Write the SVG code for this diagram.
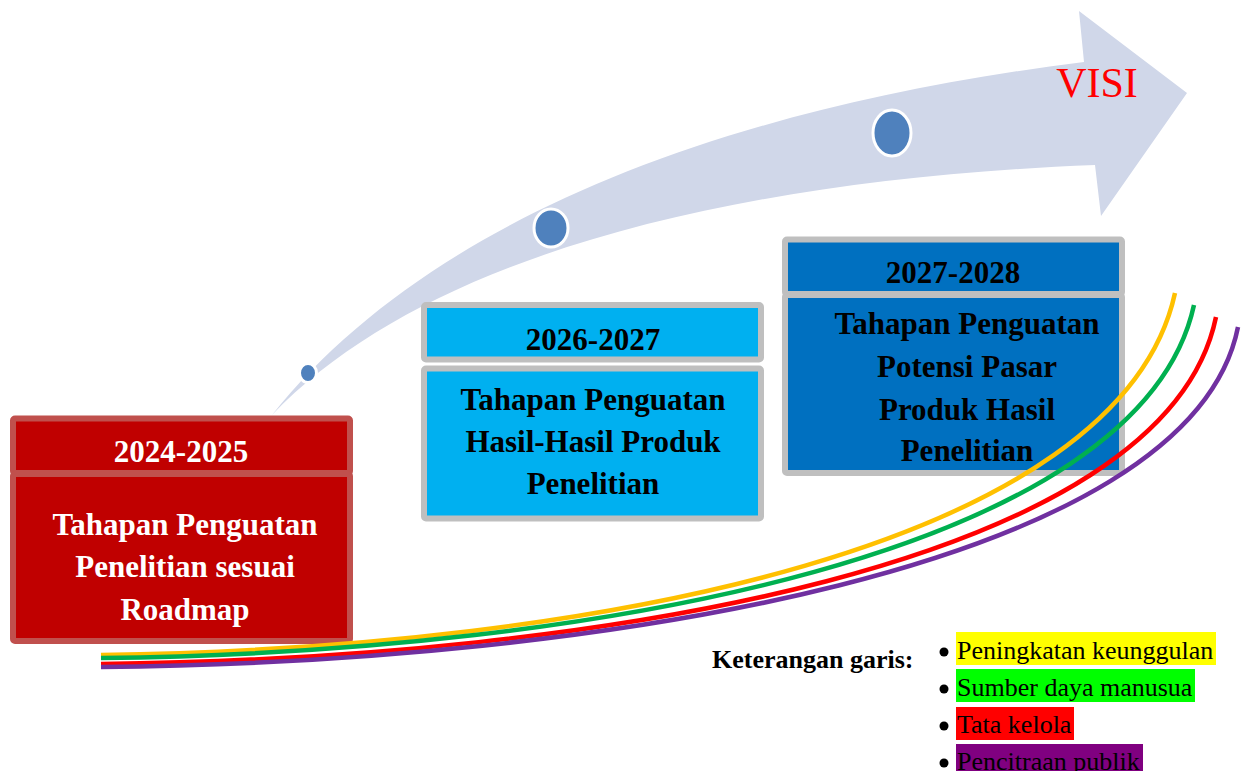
<svg xmlns="http://www.w3.org/2000/svg" width="1242" height="771" viewBox="0 0 1242 771">
<style>
.t{font-family:"Liberation Serif","Times New Roman",serif;font-weight:bold;font-size:31px;text-anchor:middle}
.w{fill:#FFFFFF}
.k{fill:#000000}
.gb{stroke:#BFBFBF;stroke-width:6}
.rb{stroke:#C0504D;stroke-width:6}
.dot{fill:#4F81BD;stroke:#FFFFFF;stroke-width:3}
.ln{fill:none;stroke-width:4.5;stroke-linecap:butt}
.lg{font-family:"Liberation Serif","Times New Roman",serif;font-size:26px;fill:#000000}
</style>
<rect width="1242" height="771" fill="#FFFFFF"/>
<g id="arrow">
<path d="M272 415 C420 230 700 110 1084 62 L1079 11 L1187 93 L1101 216 L1095 165 C720 180 420 260 272 415 Z" fill="#D0D7E9"/>
<ellipse class="dot" cx="308" cy="373" rx="8.5" ry="9.5"/>
<ellipse class="dot" cx="551" cy="228" rx="17" ry="19"/>
<ellipse class="dot" cx="892" cy="133" rx="19" ry="23"/>
<text x="1097" y="97" font-family="Liberation Serif,'Times New Roman',serif" font-size="42" fill="#FF0000" text-anchor="middle">VISI</text>
</g>
<g id="box1">
<rect class="rb" x="13" y="418.5" width="337" height="54.5" fill="#C00000" rx="2"/>
<rect class="rb" x="13" y="474" width="337" height="167" fill="#C00000" rx="2"/>
<text class="t w" x="181" y="462">2024-2025</text>
<text class="t w" x="185" y="535">Tahapan Penguatan</text>
<text class="t w" x="185" y="577">Penelitian sesuai</text>
<text class="t w" x="185" y="620">Roadmap</text>
</g>
<g id="box2">
<rect class="gb" x="424" y="305" width="337" height="54.5" fill="#00B0F0" rx="2"/>
<rect class="gb" x="424" y="368.5" width="337" height="150" fill="#00B0F0" rx="2"/>
<text class="t k" x="593" y="350">2026-2027</text>
<text class="t k" x="593" y="410">Tahapan Penguatan</text>
<text class="t k" x="593" y="452">Hasil-Hasil Produk</text>
<text class="t k" x="593" y="494">Penelitian</text>
</g>
<g id="box3">
<rect class="gb" x="785" y="239.5" width="337" height="54.5" fill="#0070C0" rx="2"/>
<rect class="gb" x="785" y="295" width="337" height="178" fill="#0070C0" rx="2"/>
<text class="t k" x="953" y="283">2027-2028</text>
<text class="t k" x="967" y="334">Tahapan Penguatan</text>
<text class="t k" x="967" y="377">Potensi Pasar</text>
<text class="t k" x="967" y="420">Produk Hasil</text>
<text class="t k" x="967" y="461">Penelitian</text>
</g>
<g id="connectors">
<path class="ln" stroke="#FFC000" d="M101 655 C600 648 1120 545 1175 293"/>
<path class="ln" stroke="#00B050" d="M101 658 C600 652 1140 552 1194 305"/>
<path class="ln" stroke="#FF0000" d="M101 664 C600 658 1165 565 1216 317"/>
<path class="ln" stroke="#7030A0" d="M101 667 C600 662 1190 568 1238 327"/>
</g>
<g id="legend">
<text class="lg" x="712" y="668" font-weight="bold">Keterangan garis:</text>
<rect x="956" y="632" width="260" height="33" fill="#FFFF00"/>
<rect x="956" y="669" width="239" height="33" fill="#00FF00"/>
<rect x="956" y="707" width="118" height="33" fill="#FF0000"/>
<rect x="956" y="744" width="187" height="33" fill="#800080"/>
<circle cx="944" cy="652" r="4.5" fill="#000000"/>
<circle cx="944" cy="689" r="4.5" fill="#000000"/>
<circle cx="944" cy="726" r="4.5" fill="#000000"/>
<circle cx="944" cy="763" r="4.5" fill="#000000"/>
<text class="lg" x="957" y="659">Peningkatan keunggulan</text>
<text class="lg" x="957" y="696">Sumber daya manusua</text>
<text class="lg" x="957" y="733">Tata kelola</text>
<text class="lg" x="957" y="770">Pencitraan publik</text>
</g>
</svg>
